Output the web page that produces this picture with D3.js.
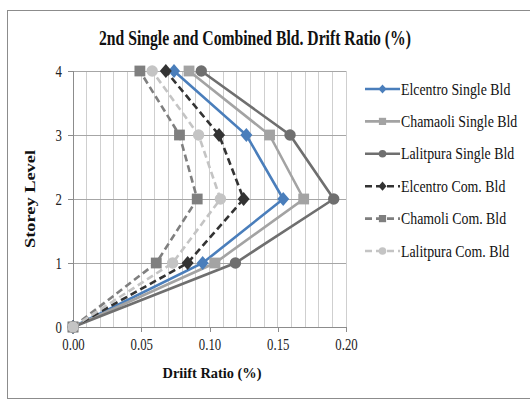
<!DOCTYPE html>
<html><head><meta charset="utf-8">
<script src="https://d3js.org/d3.v7.min.js"></script>
<style>body{margin:0;background:#fff}svg{display:block}</style>
</head><body>
<script>
const storeys = [0, 1, 2, 3, 4];
const seriesNames = ["Elcentro Single Bld", "Chamaoli Single Bld", "Lalitpura Single Bld", "Elcentro Com. Bld", "Chamoli Com. Bld", "Lalitpura Com. Bld"];
const elcentroSingle  = [0, 0.095, 0.154, 0.127, 0.074];
const chamaoliSingle  = [0, 0.104, 0.169, 0.144, 0.085];
const lalitpuraSingle = [0, 0.119, 0.191, 0.159, 0.094];
const elcentroCom     = [0, 0.084, 0.125, 0.107, 0.068];
const chamoliCom      = [0, 0.061, 0.091, 0.078, 0.049];
const lalitpuraCom    = [0, 0.073, 0.108, 0.092, 0.058];
const xTicks = [0, 0.05, 0.10, 0.15, 0.20];
const yTicks = [0, 1, 2, 3, 4];

const seriesValues = [elcentroSingle, chamaoliSingle, lalitpuraSingle, elcentroCom, chamoliCom, lalitpuraCom];
const styles = [
  {color: "#4a7ebb", dash: null, shape: "diamond"},
  {color: "#a3a3a3", dash: null, shape: "square"},
  {color: "#6f6f6f", dash: null, shape: "circle"},
  {color: "#333333", dash: "7,4", shape: "diamond"},
  {color: "#7f7f7f", dash: "7,4", shape: "square"},
  {color: "#c4c4c4", dash: "7,4", shape: "circle"}
];

const W = 530, H = 401;
const svg = d3.select("body").append("svg").attr("width", W).attr("height", H);
const serif = "'Liberation Serif','Times New Roman',serif";

// outer border
svg.append("rect").attr("x", 7.5).attr("y", 10.5).attr("width", 540).attr("height", 388)
  .attr("fill", "#fff").attr("stroke", "#8c8c8c").attr("stroke-width", 1);

const x = d3.scaleLinear().domain([0, 0.2]).range([73, 346]);
const y = d3.scaleLinear().domain([0, 4]).range([327, 71]);

function squeeze(sel, k) {
  sel.each(function() {
    const L = this.getComputedTextLength();
    d3.select(this).attr("textLength", L * k).attr("lengthAdjust", "spacingAndGlyphs");
  });
}

// grid
const g = svg.append("g");
g.selectAll("line.vg").data(d3.range(1, 21).map(i => i / 100)).join("line")
  .attr("x1", d => x(d)).attr("x2", d => x(d)).attr("y1", y(0)).attr("y2", y(4))
  .attr("stroke", "#cfcfcf").attr("stroke-width", 1).attr("shape-rendering", "crispEdges");
g.selectAll("line.hg").data(yTicks.slice(1)).join("line")
  .attr("x1", x(0)).attr("x2", x(0.2)).attr("y1", d => y(d)).attr("y2", d => y(d))
  .attr("stroke", "#a6a6a6").attr("stroke-width", 1).attr("shape-rendering", "crispEdges");

// axes
const xAxis = svg.append("g").attr("transform", `translate(0,${y(0)})`)
  .call(d3.axisBottom(x).tickValues(xTicks).tickFormat(d3.format(".2f")).tickSize(5).tickPadding(7));
const yAxis = svg.append("g").attr("transform", `translate(${x(0)},0)`)
  .call(d3.axisLeft(y).tickValues(yTicks).tickFormat(d3.format("d")).tickSize(5).tickPadding(6));
[xAxis, yAxis].forEach(a => {
  a.select(".domain").attr("stroke", "#8c8c8c").attr("shape-rendering", "crispEdges");
  a.selectAll(".tick line").attr("stroke", "#8c8c8c").attr("shape-rendering", "crispEdges");
  a.selectAll("text").attr("font-family", serif).attr("font-size", 16).attr("fill", "#222");
  squeeze(a.selectAll("text"), 0.8);
});

// lines
const line = d3.line().x(d => x(d[0])).y(d => y(d[1]));
seriesValues.forEach((vals, i) => {
  const pts = vals.map((v, j) => [v, storeys[j]]);
  svg.append("path").datum(pts).attr("d", line).attr("fill", "none")
    .attr("stroke", styles[i].color).attr("stroke-width", 2.6)
    .attr("stroke-dasharray", styles[i].dash);
});

function marker(sel, shape, color, s) {
  if (shape === "diamond") {
    sel.append("path").attr("d", `M0,${-s*1.15}L${s},0L0,${s*1.15}L${-s},0Z`).attr("fill", color);
  } else if (shape === "square") {
    sel.append("rect").attr("x", -s * 0.9).attr("y", -s * 0.9).attr("width", s * 1.8).attr("height", s * 1.8).attr("fill", color);
  } else {
    sel.append("circle").attr("r", s * 0.95).attr("fill", color);
  }
}
seriesValues.forEach((vals, i) => {
  vals.forEach((v, j) => {
    const m = svg.append("g").attr("transform", `translate(${x(v)},${y(storeys[j])})`);
    marker(m, styles[i].shape, styles[i].color, 6);
  });
});

// title
svg.append("text").attr("x", 255).attr("y", 45).attr("text-anchor", "middle")
  .attr("font-family", serif).attr("font-weight", "bold").attr("font-size", 21).attr("fill", "#111")
  .attr("textLength", 312).attr("lengthAdjust", "spacingAndGlyphs")
  .text("2nd Single and Combined Bld. Drift Ratio (%)");

// axis titles
svg.append("text").attr("x", 212).attr("y", 378).attr("text-anchor", "middle")
  .attr("font-family", serif).attr("font-weight", "bold").attr("font-size", 15.5).attr("fill", "#111")
  .attr("textLength", 99).attr("lengthAdjust", "spacingAndGlyphs")
  .text("Driift Ratio (%)");
svg.append("text").attr("transform", "translate(35,199) rotate(-90)").attr("text-anchor", "middle")
  .attr("font-family", serif).attr("font-weight", "bold").attr("font-size", 15.5).attr("fill", "#111")
  .attr("textLength", 98).attr("lengthAdjust", "spacingAndGlyphs")
  .text("Storey Level");

// legend
const leg = svg.append("g");
seriesNames.forEach((name, i) => {
  const ly = 89 + i * 32.4;
  const gi = leg.append("g").attr("transform", `translate(0,${ly})`);
  gi.append("line").attr("x1", 365).attr("x2", 400).attr("y1", 0).attr("y2", 0)
    .attr("stroke", styles[i].color).attr("stroke-width", 2.6).attr("stroke-dasharray", styles[i].dash);
  const m = gi.append("g").attr("transform", "translate(382.5,0)");
  marker(m, styles[i].shape, styles[i].color, 4);
  const t = gi.append("text").attr("x", 401).attr("y", 5.5).attr("font-family", serif).attr("font-size", 16.5)
    .attr("fill", "#111").text(name);
  squeeze(t, 0.84);
});
</script>
</body></html>
